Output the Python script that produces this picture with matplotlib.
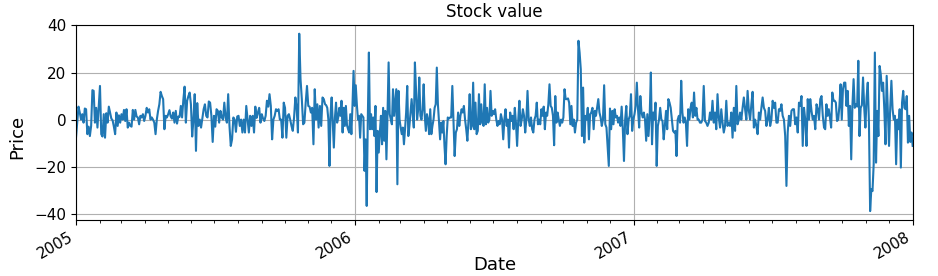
import matplotlib
matplotlib.use('Agg')
import matplotlib.pyplot as plt
import matplotlib.dates as mdates
import pandas as pd

# Segment boundary dates (values read per period)
seg_bounds = ['2005-01-01', '2005-06-12', '2005-11-23', '2006-05-04',
              '2006-10-16', '2007-03-27', '2007-09-07', '2008-01-01']

seg1 = [-7.7, -1.3, 5.5, 3, 0, 2.3, -1.3, 4.7, 4.4, -6.2, -3, -7, -2.7, 12.5, 12.2, -1.3, 5, -3.4, 5.5, 14.3,
        -6.2, -7.2, 2.3, -7.7, 2.7, -1.3, 5.5, 3, 0.4, -0.3, -3, -6.2, 3, -2.7, 1.8, -1.3, 2.3, 0, 4.1, -0.6,
        4.4, -3.4, -1.3, -2.7, -3, 4.1, 0, 4.1, 1.3, 0.9, -2, 1.6, 0.9, 2.3, -0.6, 1.6, 5, 3, 4.4, 0,
        0.9, 0, -1.3, -6.2, 0, 3.7, 6.5, 11.8, 10, 8.7, -4.1, 1.6, 0.9, 2.3, 4, 1.3, 0.4, 3, -1.3, 3.7,
        -1.7, 1.3, 1.1, 5.8, 0.9, 8.4, 14, -1.3, 8, 10, 11.5, 6.5, -7.2, 0, 10.8, -13.3, 7, -2.7]

seg2 = [0, -3.4, 0.4, 4.4, 6.5, 1.6, 0.9, 7.7, 7.2, 1.6, -9.5, 1.6, -3, 4.4, 3.7, -1.3, 3.7, 0.9, 0, 7.2,
        0.9, -1.3, 10.8, -2.7, -11.2, -8.4, 0.9, 0, -5.2, 1.3, 1.6, -2.7, 0, -5.5, 0, -5.5, 5.8, 0, -5.5, 1.6,
        -2.7, 1.6, -5.5, 5.5, 0.7, 3, 5, -1.3, 2.3, 0.4, -0.6, 1.6, 8, 5.5, 10.8, 5.8, -8.4, 0, 1.6, 4.4,
        3.7, 4.4, 0, 0, -7.7, 7.2, 5, -7.7, 1.6, 2.3, 0, -2.7, -4.8, 0.9, 9.4, 5, -5.5, 36.5, 17.2, 8.7,
        -2, -1.3, 7.2, 14.3, 5.8, 5.5, 3, 5, -10.5, 12.9, 0, 6.5, -3.4, 5.8, -2.7, 9.4, 8.7]

seg3 = [6.5, 6.1, 5, 0, -19.7, 2.3, 9.4, -1.3, -11.9, 0.9, 7.2, -1.3, 0.9, 5, 1.6, 8, -5.5, 5, -2.7, 5.8,
        -2.4, -4.1, -5.5, 2.3, -6.2, 5.8, 20.7, 5.8, 14.6, 6.5, 0, 1.6, -7.7, 2.3, 1.6, 0.9, -21.8, -8.4, -36.7, 0,
        28.5, -4.1, 2.3, -4.1, 0.9, -7, 5.8, -30.8, -4.8, -14, -5.5, 1.6, -10.5, 5, -9, 3.7, -16.9, 2.3, 24.3, 2.3,
        0, -2, 12.9, 1.6, 7.2, 12.9, -27.5, 12.2, 0, -3.4, -6.2, -3.4, -10.5, -4.1, 3, 14.3, -7, -2.7, 3, 8.7,
        2.3, -3.4, 24.3, 12.9, 0, 4.4, 17.9, 1.6, 0, 4.4, 15, 1.6, -4.8, 2.3, 0, -6.2, 4.4, -6.2, -2.7, 0,
        5, 6.5, 22.1, 6.5, -1.3, -8.4, -1.3, -5.5, -0.6, -11.2, -19, -7, 0.9]

seg4 = [0.4, 0.9, 0.9, 14.3, 0, -15.5, -5.5, -4.1, 3, -2.7, 1.6, 4.4, 3, 5.8, 0, -4.1, -9, 0, 10.8, -4.1,
        -2.7, 15.7, -4.1, 7.2, -6.2, -4.8, 10.8, -2, 6.5, -1.3, -2.7, 15, -2, 5, -1.3, 0, 12.2, 1.6, 3.7, 2.3,
        4.4, 0, -2.7, -0.6, -2, 2.3, 0, -8.4, 0, 4.4, -2.7, 0, -11.9, 3, -0.6, 1.6, -4.1, 5, -1.3, -11.2,
        0, 8, -2.7, 0, 4.4, 1.6, -5.5, 0, 12.2, 0, -2.7, 0.9, -4.1, -5.5, 0, 1.6, 7.2, -2, 0, -2,
        4.4, 1.6, 5.5, -4.1, 3, 1.6, 6.5, 15, 5.8, 5, 1.6, -10.9, 10, -1.3, 3, 0, -2.7, 0, -1.3, 0.9,
        12.9, 8.7, 8.7, 9, 7.2, -2, 5.8, -2.7, 0]

seg5 = [-5.5, -1.3, 0, 33.5, 28.5, 21.4, -7, 13.6, -9.8, 1.6, 0, 5, -8.4, 2.3, 3, 5, -4.1, 3.7, 1.6, 5,
        8.7, 3, 0.9, -2.7, 0, 14.6, -2, -3.4, -11.9, -19.7, 4.7, -4.1, 3.7, -2, 4.4, 0.9, 1.6, -1.3, 0.9, -2.7,
        5.5, -4.1, -17.6, 0, 5.8, -6.2, 0, 1.6, 10.8, -4.8, 0, 2.3, 5.8, 15.7, 4.4, -3.4, 10, 3, 0.9, 3,
        0, -9, 2.3, -7, 1.6, 20, -10.5, 3, 0, 7.2, -19.7, -2.7, 0, 5, 0, -0.6, -8.4, -2.7, 3.7, -4.1,
        8.7, 7.2, 5, 0, -4.8, -5.5, -4.8, -15.5, 0, 1.6, -1.3, 16.5, 3, -1.3, 0.9, -1.3, -11.2, 4.4, 0, 5,
        7.2, 0.9, 11.5, 1.6, 5, 0]

seg6 = [0, -1.3, -1.3, 0, 14.3, -0.6, -1.3, -2.7, -1.3, 3, 0, 8, -1.3, 3, -4.1, 10.8, 0.9, -3.4, 4.4, -1.3,
        -5.5, -2.7, 8, -2.7, -1.3, -2.7, 3, -7.7, 5, -4.8, 14.3, -2, 0, 3, 0, 5, 9.4, 4.4, 0, 12.2,
        3.7, 0, 6.5, 11.8, -3.4, 0, -2.7, -6.2, 3, 0, 5, 9.4, 5, 3.7, -2.7, 0, 5, -2.7, 0, 8,
        5, 7.2, -1.3, -1.3, 4.4, 3.7, 6.5, 1.6, 0, -7, -28.2, -5.5, 1.6, -2.7, 3.7, 4.4, 4.4, -2, 0.9, -5.5,
        7.2, 5.8, 10, -11.2, 5, 0, -11.2, 8.7, 0, 8.7, 3.7, 0, 1.6, -4.1, 6.5, 4.4, 0, 8.7, 10, 1.6]

seg7 = [-3.4, -4.1, 6.5, 1.6, 4.4, 0.9, -3.4, 11.5, 8, 8, 7.2, -0.6, 0, 5.8, 15, 0, 12.9, 15.7, 15.7, 5.8,
        12.2, -2.7, 5.8, -16.9, 5.8, 17.2, 5, 6.5, 5.5, 25, -7, 5, 6.1, 17.9, 5, -3.4, 9.4, 15.7, -1.3, -38.9,
        -29.6, -30.4, -19, 28.5, -18.3, 3.7, -7, 22.8, 19.3, 12.2, 15.7, 4.4, -10.5, 18.6, 3.7, -11.2, 5, 16.5, 4.4, 0,
        1.6, -19, 0, -4.1, 4.4, -20.4, 7.2, 12.2, 5, 4.4, 10, -9.8, 1.6, -9.5, -5.5, -11.2]

segments = [seg1, seg2, seg3, seg4, seg5, seg6, seg7]

dates = []
values = []
for i, seg in enumerate(segments):
    last = i == len(segments) - 1
    rng = pd.date_range(seg_bounds[i], seg_bounds[i + 1], periods=len(seg) + (0 if last else 1))
    if not last:
        rng = rng[:-1]
    dates.extend(rng)
    values.extend(seg)

series = pd.Series(values, index=pd.DatetimeIndex(dates))

fig = plt.figure(figsize=(9.38, 2.76), dpi=100)
ax = fig.add_axes([0.081, 0.203, 0.892, 0.707])
ax.plot(series.index, series.values, color='#1f77b4', lw=1.5)
ax.set_xlim(pd.Timestamp(seg_bounds[0]), pd.Timestamp(seg_bounds[-1]))
ax.xaxis.set_major_locator(mdates.YearLocator())
ax.xaxis.set_major_formatter(mdates.DateFormatter('%Y'))
ax.xaxis.set_minor_locator(mdates.MonthLocator())
ax.set_yticks([-40, -20, 0, 20, 40])
ax.grid(True, which='major', color='#b0b0b0', lw=0.8)
ax.tick_params(labelsize=11)
for lbl in ax.get_xticklabels():
    lbl.set_rotation(30)
    lbl.set_ha('right')
ax.set_title('Stock value', fontsize=12)
ax.set_xlabel('Date', fontsize=13, va='baseline')
ax.xaxis.set_label_coords(0.5, -0.256)
ax.set_ylabel('Price', fontsize=13)
ax.yaxis.set_label_coords(-0.06, 0.427)
fig.savefig('out.png', dpi=100)
